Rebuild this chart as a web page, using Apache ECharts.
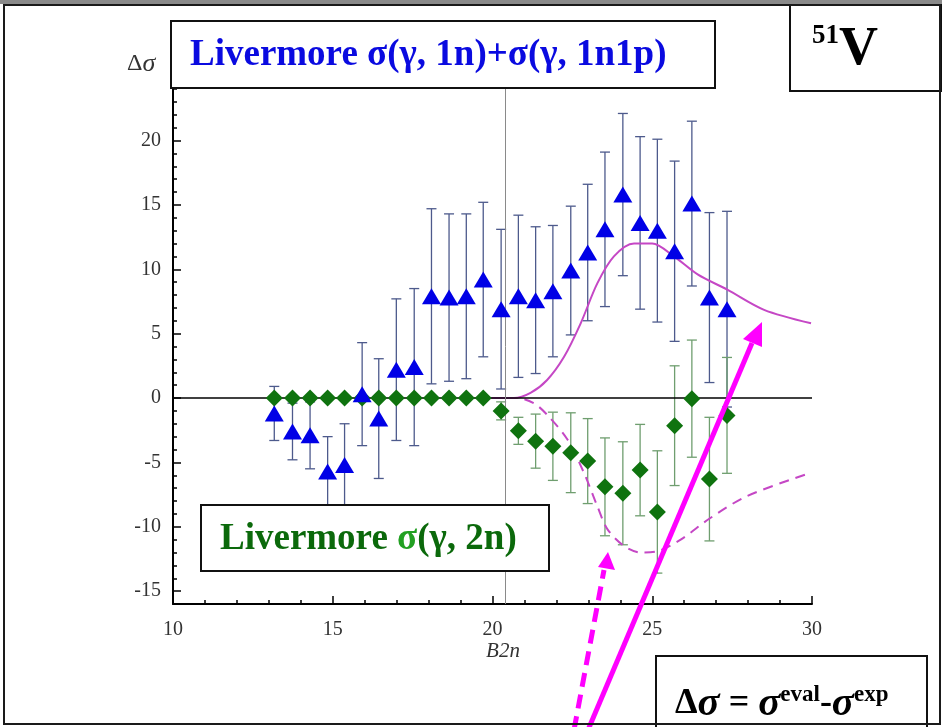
<!DOCTYPE html>
<html>
<head>
<meta charset="utf-8">
<script src="https://cdn.jsdelivr.net/npm/echarts@6/dist/echarts.min.js"></script>
<style>html,body{margin:0;padding:0;background:#fff}#c{width:942px;height:727px}</style>
</head>
<body>
<div id="c"></div>
<script>
// ---- data ----
const xB2n = [13.17,13.74,14.29,14.84,15.37,15.92,16.44,16.99,17.55,18.09,18.64,19.18,19.71,20.27,20.81,21.35,21.89,22.45,22.98,23.52,24.08,24.62,25.16,25.70,26.24,26.79,27.34];
const blueY   = [-1.2,-2.6,-2.9,-5.7,-5.2,0.3,-1.6,2.2,2.4,7.9,7.8,7.9,9.2,6.9,7.9,7.6,8.3,9.9,11.3,13.1,15.8,13.6,13.0,11.4,15.1,7.8,6.9];
const blueErr = [2.1,2.2,2.6,2.7,3.2,4.0,4.65,5.5,6.1,6.8,6.5,6.4,6.0,6.2,6.3,5.7,5.1,5.0,5.3,6.0,6.3,6.7,7.1,7.0,6.4,6.6,7.6];
const greenY   = [0,0,0,0,0,0,0,0,0,0,0,0,0,-1.0,-2.55,-3.35,-3.75,-4.25,-4.9,-6.9,-7.4,-5.6,-8.85,-2.15,-0.05,-6.3,-1.35];
const greenErr = [0,0,0,0,0,0,0,0,0,0,0,0,0,0.7,1.05,2.1,2.65,3.1,3.3,3.8,4.0,3.55,4.75,4.65,4.55,4.8,4.5];
const solidX = [19.73,20.67,21.19,21.71,22.24,22.76,23.28,23.80,24.43,25.00,25.68,26.42,27.36,28.50,29.97];
const solidY = [0,0,0.4,1.4,3.2,5.8,8.9,11.0,12.0,12.0,11.0,9.6,8.4,6.85,5.8];
const dashX = [19.94,20.77,21.29,21.71,22.34,22.86,23.28,23.60,24.12,24.64,25.16,25.89,26.83,27.98,29.97];
const dashY = [0,0,-0.4,-1.3,-3.2,-5.8,-8.4,-10.2,-11.5,-12.0,-11.9,-11.0,-9.3,-7.6,-5.8];
const xTicks = [10,15,20,25,30];
const yTicks = [-15,-10,-5,0,5,10,15,20];
const vLineX = 20.41;

const zip2 = (a,b)=>a.map((v,i)=>[v,b[i]]);
const zip3 = (a,b,c)=>a.map((v,i)=>[v,b[i],c[i]]);

function errRender(color){
  return function(params, api){
    const x = api.value(0), y = api.value(1), e = api.value(2);
    if (!e) return null;
    const t = api.coord([x, y+e]), b = api.coord([x, y-e]);
    const hw = 5;
    const st = {stroke: color, lineWidth: 1.3};
    return {type:'group', children:[
      {type:'line', shape:{x1:t[0],y1:t[1],x2:b[0],y2:b[1]}, style:st},
      {type:'line', shape:{x1:t[0]-hw,y1:t[1],x2:t[0]+hw,y2:t[1]}, style:st},
      {type:'line', shape:{x1:b[0]-hw,y1:b[1],x2:b[0]+hw,y2:b[1]}, style:st}
    ]};
  };
}

const serif = '"Liberation Serif", "Times New Roman", serif';
const lblStyle = {color:'#333', fontFamily: serif, fontSize: 20};

const chart = echarts.init(document.getElementById('c'), null, {renderer:'canvas'});
const option = {
  animation: false,
  backgroundColor: '#fff',
  grid: {left:173, right:130, top:89, bottom:123},
  xAxis: {
    type:'value', min:10, max:30, interval:5,
    axisLine:{onZero:false, lineStyle:{color:'#000', width:2}},
    axisTick:{inside:true, length:8, lineStyle:{color:'#000', width:1.5}},
    minorTick:{show:true, splitNumber:5, length:4, lineStyle:{color:'#000', width:1.5}},
    splitLine:{show:false},
    axisLabel:Object.assign({margin:16, customValues:xTicks}, lblStyle)
  },
  yAxis: [{
    type:'value', min:-16, max:24,
    axisLine:{show:true, onZero:false, lineStyle:{color:'#000', width:2}},
    axisTick:{show:true, inside:true, length:8, customValues:yTicks, lineStyle:{color:'#000', width:1.5}},
    axisLabel:Object.assign({margin:12, customValues:yTicks}, lblStyle),
    splitLine:{show:false}
  },{
    type:'value', min:-16, max:24, interval:1, position:'left',
    axisLine:{show:false},
    axisTick:{show:true, inside:true, length:4, lineStyle:{color:'#000', width:1.5}},
    axisLabel:{show:false},
    splitLine:{show:false}
  }],
  series: [
    {type:'line', data:[], z:1, silent:true,
     markLine:{silent:true, symbol:'none', label:{show:false},
       data:[
         {yAxis:0, lineStyle:{color:'#000', width:1.5, type:'solid'}},
         {xAxis:vLineX, lineStyle:{color:'#8a8a8a', width:1, type:'solid'}}
       ]}},
    {type:'custom', renderItem:errRender('#4d5a8c'), data:zip3(xB2n, blueY, blueErr), encode:{x:0,y:1}, z:2, silent:true},
    {type:'custom', renderItem:errRender('#6f9e6f'), data:zip3(xB2n, greenY, greenErr), encode:{x:0,y:1}, z:3, silent:true},
    {type:'line', data:zip2(solidX, solidY), smooth:0.3, showSymbol:false, symbol:'none',
     lineStyle:{color:'#c547c5', width:2}, z:4},
    {type:'line', data:zip2(dashX, dashY), smooth:0.3, showSymbol:false, symbol:'none',
     lineStyle:{color:'#c547c5', width:2, type:[10,7]}, z:4},
    {type:'scatter', data:zip2(xB2n, greenY), symbol:'diamond', symbolSize:[17,17],
     itemStyle:{color:'#0f730f', opacity:1}, z:5},
    {type:'scatter', data:zip2(xB2n, blueY), symbol:'triangle', symbolSize:[19,16],
     itemStyle:{color:'#0000e6', opacity:1}, z:6}
  ],
  graphic: [
    {type:'rect', shape:{x:0,y:0,width:942,height:4}, style:{fill:'#8a8a8a'}, z:200},
    {type:'rect', shape:{x:4,y:5,width:936,height:719}, style:{fill:null, stroke:'#1a1a1a', lineWidth:2}, z:200},
    // axis names
    {type:'text', x:127, y:64, style:{text:'{a|Δ}{b|σ}', rich:{a:{font:'24px '+serif, fill:'#333'}, b:{font:'italic 26px '+serif, fill:'#333'}}, textVerticalAlign:'middle'}, z:150},
    {type:'text', x:503, y:651, style:{text:'B2n', font:'italic 21px '+serif, fill:'#333', textAlign:'center', textVerticalAlign:'middle'}, z:150},
    // blue title box
    {type:'rect', shape:{x:171,y:21,width:544,height:67}, style:{fill:'#fff', stroke:'#111', lineWidth:2}, z:150},
    {type:'text', x:190, y:55, style:{text:'Livermore σ(γ, 1n)+σ(γ, 1n1p)', font:'bold 37px '+serif, fill:'#0a0ae0', textVerticalAlign:'middle'}, z:151},
    // 51V box
    {type:'rect', shape:{x:790,y:5,width:151,height:86}, style:{fill:'#fff', stroke:'#111', lineWidth:2}, z:150},
    {type:'text', x:812, y:50, style:{text:'{s|51}{v|V}', rich:{s:{font:'bold 27px '+serif, fill:'#000', verticalAlign:'top'}, v:{font:'bold 54px '+serif, fill:'#000'}}, textVerticalAlign:'middle'}, z:151},
    // green box
    {type:'rect', shape:{x:201,y:505,width:348,height:66}, style:{fill:'#fff', stroke:'#111', lineWidth:2}, z:150},
    {type:'text', x:220, y:539, style:{text:'{g|Livermore }{s|σ}{g|(γ, 2n)}', rich:{g:{font:'bold 37px '+serif, fill:'#0b690b'}, s:{font:'bold 37px '+serif, fill:'#22a022'}}, textVerticalAlign:'middle'}, z:151},
    // formula box
    {type:'rect', shape:{x:656,y:656,width:271,height:80}, style:{fill:'#fff', stroke:'#111', lineWidth:2}, z:150},
    {type:'text', x:675, y:704, style:{text:'{d|Δ}{s|σ}{d| = }{s|σ}{p|eval}{d|-}{s|σ}{p|exp}', rich:{
        d:{font:'bold 36px '+serif, fill:'#000'},
        s:{font:'bold italic 41px '+serif, fill:'#000'},
        p:{font:'bold 23px '+serif, fill:'#000', verticalAlign:'top'}}, textVerticalAlign:'middle'}, z:151},
    // arrows
    {type:'line', shape:{x1:588,y1:730,x2:752,y2:343}, style:{stroke:'#ff00ff', lineWidth:5}, z:160},
    {type:'polygon', shape:{points:[[762,322],[762,347],[743,339]]}, style:{fill:'#ff00ff'}, z:160},
    {type:'line', shape:{x1:574,y1:730,x2:604,y2:570}, style:{stroke:'#ff00ff', lineWidth:5, lineDash:[14,8]}, z:160},
    {type:'polygon', shape:{points:[[608,552],[615,570],[598,567]]}, style:{fill:'#ff00ff'}, z:160}
  ]
};
chart.setOption(option);
</script>
</body>
</html>
